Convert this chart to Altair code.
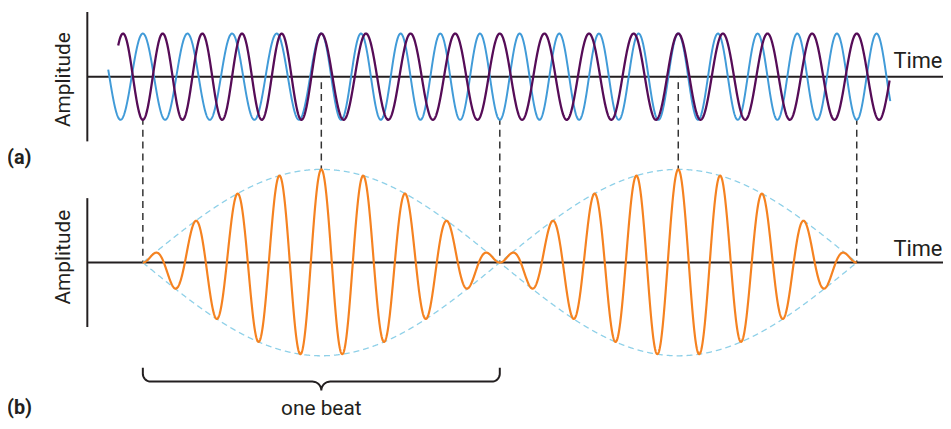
import altair as alt
import numpy as np
import pandas as pd

# ---------------- values ----------------
tone_cycles_per_beat = [9, 8]          # the two tones: 9 and 8 cycles per beat
tone_amplitude = 1.0
common_crest = 0.5                     # both tones crest together here (time in beats)
purple_start_end = [-0.069, 2.092]
blue_start_end = [-0.097, 2.094]
sum_start_end = [0.0, 2.0]
connector_times = [0.0, 0.5, 1.0, 1.5, 2.0]
connector_top = [-1.0, 0.0, -1.0, 0.0, -1.0]     # start in (a): trough / axis
connector_bottom = [0.0, 2.0, 0.0, 2.0, 0.0]     # end in (b): node / crest of the sum
brace_start_end = [0.0, 1.0]
axis_titles = ["Amplitude", "Amplitude"]
time_titles = ["Time", "Time"]
panel_titles = ["(a)", "(b)"]
beat_title = "one beat"

# ---------------- layout (page pixels) ----------------
W, H, MARGIN = 943, 413, 8
BEAT_PX, T0_PAGE = 360.0, 144.0
A0_PAGE, A_PX = 75.5, 43.5
B0_PAGE, B_PX = 263.0, 47.0

def t_of(px):
    return (px - T0_PAGE) / BEAT_PX

def a_of(py):
    return (A0_PAGE - py) / A_PX

def b_of(py):
    return (B0_PAGE - py) / B_PX

xs = alt.Scale(domain=[t_of(MARGIN), t_of(MARGIN + W)], nice=False, zero=False)
ya = alt.Scale(domain=[a_of(MARGIN + H), a_of(MARGIN)], nice=False, zero=False)
yb = alt.Scale(domain=[b_of(MARGIN + H), b_of(MARGIN)], nice=False, zero=False)

INK = "#231f20"
PURPLE = "#560c57"
BLUE = "#419bd8"
ORANGE = "#f58220"
ENV = "#8ed0e8"
FONT = "Roboto"

k_hi, k_lo = tone_cycles_per_beat


def tone(t, k):
    return tone_amplitude * np.cos(2 * np.pi * k * (t - common_crest))


tp = np.linspace(*purple_start_end, 2500)
purple = np.where(tp < common_crest, tone(tp, k_hi), tone(tp, k_lo))
tb = np.linspace(*blue_start_end, 2500)
blue = np.where(tb < common_crest, tone(tb, k_lo), tone(tb, k_hi))
ts = np.linspace(*sum_start_end, 2500)
total = tone(ts, k_hi) + tone(ts, k_lo)
env = 2 * tone_amplitude * np.abs(np.cos(np.pi * (k_hi - k_lo) * (ts - common_crest)))


def X(field="t"):
    return alt.X(f"{field}:Q", scale=xs, axis=None)


def Y(scale, field="v"):
    return alt.Y(f"{field}:Q", scale=scale, axis=None)


def wave(t, v, color, width, scale, dash=None):
    df = pd.DataFrame({"t": t, "v": v, "i": np.arange(len(t))})
    kw = dict(color=color, strokeWidth=width, interpolate="linear")
    if dash:
        kw["strokeDash"] = dash
    return alt.Chart(df).mark_line(**kw).encode(x=X(), y=Y(scale), order="i:Q")


layers = []

# ---- panel (a) axes ----
AXIS_T = t_of(88)
layers.append(alt.Chart(pd.DataFrame({"t": [AXIS_T], "v": [-1.5], "v2": [1.5]}))
              .mark_rule(color=INK, strokeWidth=2)
              .encode(x=X(), y=Y(ya), y2="v2:Q"))
layers.append(alt.Chart(pd.DataFrame({"t": [AXIS_T], "t2": [t_of(MARGIN + W)], "v": [0.0]}))
              .mark_rule(color=INK, strokeWidth=2)
              .encode(x=X(), x2="t2:Q", y=Y(ya)))
# ---- panel (b) axes ----
layers.append(alt.Chart(pd.DataFrame({"t": [AXIS_T], "v": [-1.383], "v2": [1.383]}))
              .mark_rule(color=INK, strokeWidth=2)
              .encode(x=X(), y=Y(yb), y2="v2:Q"))
layers.append(alt.Chart(pd.DataFrame({"t": [AXIS_T], "t2": [t_of(MARGIN + W)], "v": [0.0]}))
              .mark_rule(color=INK, strokeWidth=2)
              .encode(x=X(), x2="t2:Q", y=Y(yb)))

# ---- connectors (dashed) split at a junction between the panels ----
J_PAGE = 160.0
conn = pd.DataFrame({"t": connector_times, "top": connector_top, "bottom": connector_bottom})
conn["ja"] = a_of(J_PAGE)
conn["jb"] = b_of(J_PAGE)
layers.append(alt.Chart(conn).mark_rule(color="#333333", strokeWidth=1.5, strokeDash=[7, 5])
              .encode(x=X(), y=Y(ya, "ja"), y2="top:Q"))
layers.append(alt.Chart(conn).mark_rule(color="#333333", strokeWidth=1.5, strokeDash=[7, 5],
                                        strokeDashOffset=7)
              .encode(x=X(), y=Y(yb, "jb"), y2="bottom:Q"))

# ---- waves ----
layers.append(wave(tb, blue, BLUE, 2.0, ya))
layers.append(wave(tp, purple, PURPLE, 2.3, ya))
layers.append(wave(ts, env, ENV, 1.3, yb, dash=[6, 4]))
layers.append(wave(ts, -env, ENV, 1.3, yb, dash=[6, 4]))
layers.append(wave(ts, total, ORANGE, 2.2, yb))

# ---- brace under one beat ----
top_px, mid_px, cusp = 369.0, 383.0, 9.0
r_end, r_mid = 8.0, 9.0
x0 = brace_start_end[0] * BEAT_PX + T0_PAGE
x1 = brace_start_end[1] * BEAT_PX + T0_PAGE
xc = (x0 + x1) / 2
pts = [(x0, top_px)]
for th in np.linspace(np.pi, np.pi / 2, 12):
    pts.append((x0 + r_end + r_end * np.cos(th), mid_px - r_end + r_end * np.sin(th)))
for th in np.linspace(-np.pi / 2, 0, 12):
    pts.append((xc - r_mid + r_mid * np.cos(th), mid_px + r_mid + r_mid * np.sin(th)))
half = list(pts)
for (px, py) in reversed(half):
    pts.append((2 * xc - px, py))
brace = pd.DataFrame({"t": [t_of(p[0]) for p in pts], "v": [b_of(p[1]) for p in pts],
                      "i": np.arange(len(pts))})
layers.append(alt.Chart(brace).mark_line(color=INK, strokeWidth=2)
              .encode(x=X(), y=Y(yb), order="i:Q"))

# ---- texts ----
def text(t, v, label, scale, **kw):
    df = pd.DataFrame({"t": [t], "v": [v], "label": [label]})
    base = dict(font=FONT, color=INK)
    base.update(kw)
    return alt.Chart(df).mark_text(**base).encode(x=X(), y=Y(scale), text="label:N")


layers.append(text(t_of(65), a_of(78.5), axis_titles[0], ya, fontSize=21, angle=270,
                   align="center", baseline="middle"))
layers.append(text(t_of(65), b_of(257.5), axis_titles[1], yb, fontSize=21, angle=270,
                   align="center", baseline="middle"))
layers.append(text(t_of(901), a_of(67), time_titles[0], ya, fontSize=22,
                   align="left", baseline="alphabetic"))
layers.append(text(t_of(901), b_of(256), time_titles[1], yb, fontSize=22,
                   align="left", baseline="alphabetic"))
layers.append(text(t_of(7), a_of(164), panel_titles[0], ya, fontSize=20, fontWeight="bold",
                   align="left", baseline="alphabetic"))
layers.append(text(t_of(7), b_of(416), panel_titles[1], yb, fontSize=20, fontWeight="bold",
                   align="left", baseline="alphabetic"))
layers.append(text(sum(brace_start_end) / 2, b_of(417), beat_title, yb, fontSize=21,
                   align="center", baseline="alphabetic"))

chart = (alt.layer(*layers)
         .resolve_scale(y="independent")
         .properties(width=W, height=H, padding=0, autosize="none")
         .configure_view(stroke=None))

chart.save("out.html", embed_options={"renderer": "svg", "actions": False})
